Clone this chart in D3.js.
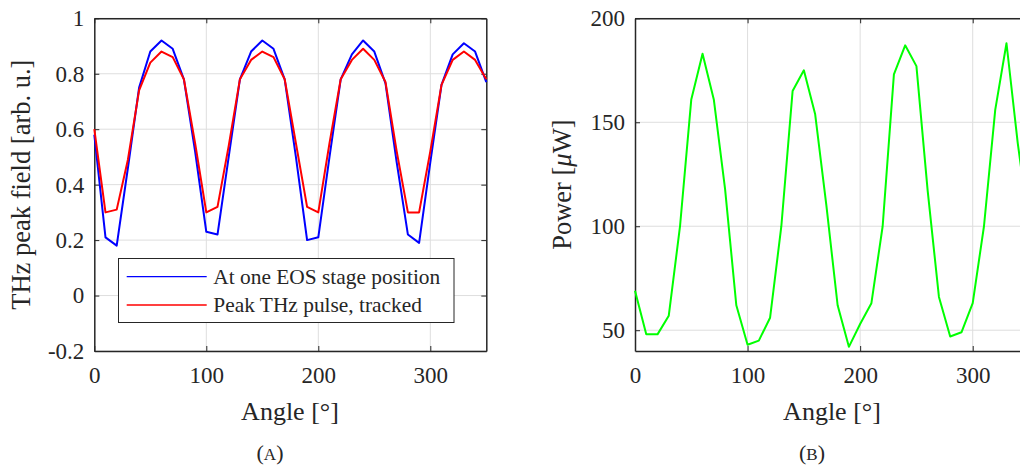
<!DOCTYPE html>
<html>
<head>
<meta charset="utf-8">
<script src="https://cdn.jsdelivr.net/npm/d3@7"></script>
<style>
  body { margin: 0; background: #fff; overflow: hidden; }
  svg { display: block; font-family: "Liberation Serif", "Times New Roman", serif; }
  .axis text { font-size: 23px; fill: #262626; }
  .axis path, .axis line { stroke: #262626; }
  .grid line { stroke: #dedede; stroke-width: 1; }
</style>
</head>
<body>
<svg width="1020" height="465"></svg>
<script>
// data
var angles = [0, 10, 20, 30, 40, 50, 60, 70, 80, 90, 100, 110, 120, 130, 140, 150, 160, 170,
              180, 190, 200, 210, 220, 230, 240, 250, 260, 270, 280, 290, 300, 310, 320, 330, 340, 350];
var eosField = [0.58, 0.21, 0.18, 0.46, 0.75, 0.88, 0.92, 0.89, 0.78, 0.52, 0.23, 0.22,
                0.50, 0.78, 0.88, 0.92, 0.89, 0.78, 0.50, 0.20, 0.21, 0.50, 0.78, 0.87,
                0.92, 0.88, 0.765, 0.48, 0.22, 0.19, 0.48, 0.76, 0.87, 0.91, 0.88, 0.77];
var trackedField = [0.60, 0.30, 0.31, 0.49, 0.74, 0.84, 0.88, 0.86, 0.78, 0.55, 0.30, 0.32,
                    0.54, 0.78, 0.85, 0.88, 0.86, 0.78, 0.55, 0.32, 0.30, 0.55, 0.78, 0.85,
                    0.89, 0.85, 0.77, 0.52, 0.30, 0.30, 0.52, 0.76, 0.85, 0.88, 0.85, 0.78];
var power = [69, 48, 48, 57, 100, 161, 183, 161, 118, 62, 43, 45,
             56, 100, 165, 175, 154, 110, 62, 42, 53, 63, 100, 173,
             187, 177, 117, 66, 47, 49, 63, 100, 156, 188, 140, 100];

var fieldTicks = [-0.2, 0, 0.2, 0.4, 0.6, 0.8, 1];
var powerTicks = [50, 100, 150, 200];
var angleTicks = [0, 100, 200, 300];
var legendNames = ["At one EOS stage position", "Peak THz pulse, tracked"];

var svg = d3.select("svg");
var top_ = 18.3, bottom = 351;

// draws one framed MATLAB-style axes and returns its scales
function makeAxes(left, right, yDomain, yTicks, yFmt) {
    var x = d3.scaleLinear().domain([0, 350]).range([left, right]);
    var y = d3.scaleLinear().domain(yDomain).range([bottom, top_]);
    var g = svg.append("g");

    // grid
    var grid = g.append("g").attr("class", "grid");
    grid.selectAll("line.v").data(angleTicks.slice(1)).enter().append("line")
        .attr("x1", x).attr("x2", x).attr("y1", top_).attr("y2", bottom);
    grid.selectAll("line.h").data(yTicks).enter().append("line")
        .attr("y1", y).attr("y2", y).attr("x1", left).attr("x2", right);

    g.append("g").attr("class", "axis")
        .attr("transform", "translate(0," + bottom + ")")
        .call(d3.axisBottom(x).tickValues(angleTicks).tickSizeInner(-5).tickSizeOuter(0).tickPadding(16));
    g.append("g").attr("class", "axis")
        .attr("transform", "translate(0," + top_ + ")")
        .call(d3.axisTop(x).tickValues(angleTicks).tickSizeInner(-5).tickSizeOuter(0).tickFormat(""));
    g.append("g").attr("class", "axis")
        .attr("transform", "translate(" + left + ",0)")
        .call(d3.axisLeft(y).tickValues(yTicks).tickSizeInner(-5).tickSizeOuter(0).tickPadding(10).tickFormat(yFmt));
    g.append("g").attr("class", "axis")
        .attr("transform", "translate(" + right + ",0)")
        .call(d3.axisRight(y).tickValues(yTicks).tickSizeInner(-5).tickSizeOuter(0).tickFormat(""));

    // d3 puts sans-serif on the axis groups, drop it so the serif from css applies
    g.selectAll(".axis").attr("font-family", null).attr("font-size", null);
    g.selectAll(".axis path").attr("stroke-width", 1.5);

    return {x: x, y: y, g: g};
}

function drawLine(ax, values, color) {
    var line = d3.line()
        .x(function(d, i) { return ax.x(angles[i]); })
        .y(function(d) { return ax.y(d); });
    ax.g.append("path")
        .datum(values)
        .attr("fill", "none")
        .attr("stroke", color)
        .attr("stroke-width", 2)
        .attr("stroke-linejoin", "round")
        .attr("d", line);
}

function caption(ax, cx, letter) {
    var t = ax.g.append("text")
        .attr("x", cx).attr("y", 460)
        .attr("text-anchor", "middle").attr("font-size", 22).attr("fill", "#262626");
    t.append("tspan").text("(");
    t.append("tspan").attr("font-size", 17).text(letter);
    t.append("tspan").text(")");
}

/////////////
// (A) field
/////////////
var axA = makeAxes(94.3, 486.3, [-0.2, 1], fieldTicks, function(d) { return String(d); });
drawLine(axA, eosField, "#0000ff");
drawLine(axA, trackedField, "#ff0000");

// legend
var leg = axA.g.append("g");
leg.append("rect")
    .attr("x", 118.5).attr("y", 258.5).attr("width", 335.5).attr("height", 64)
    .attr("fill", "#fff").attr("stroke", "#262626").attr("stroke-width", 1);
[["#0000ff", 276.7], ["#ff0000", 305]].forEach(function(c, i) {
    leg.append("line")
        .attr("x1", 126.7).attr("x2", 206.7).attr("y1", c[1]).attr("y2", c[1])
        .attr("stroke", c[0]).attr("stroke-width", 1.3);
    leg.append("text")
        .attr("x", 213.3).attr("y", c[1]).attr("dy", "0.34em")
        .attr("font-size", 21.4).attr("fill", "#262626")
        .text(legendNames[i]);
});

axA.g.append("text")
    .attr("transform", "translate(30," + ((top_ + bottom) / 2) + ") rotate(-90)")
    .attr("text-anchor", "middle").attr("font-size", 26.5).attr("fill", "#262626")
    .text("THz peak field [arb. u.]");
axA.g.append("text")
    .attr("x", 290).attr("y", 420)
    .attr("text-anchor", "middle").attr("font-size", 26).attr("fill", "#262626")
    .text("Angle [°]");
caption(axA, 270, "A");

/////////////
// (B) power
/////////////
var axB = makeAxes(635, 1029, [40, 200], powerTicks, d3.format("d"));
drawLine(axB, power, "#00ff00");

var yl = axB.g.append("text")
    .attr("transform", "translate(571," + ((top_ + bottom) / 2) + ") rotate(-90)")
    .attr("text-anchor", "middle").attr("font-size", 26.5).attr("fill", "#262626");
yl.append("tspan").text("Power [");
yl.append("tspan").attr("font-style", "italic").text("μ");
yl.append("tspan").text("W]");
axB.g.append("text")
    .attr("x", 832).attr("y", 420)
    .attr("text-anchor", "middle").attr("font-size", 26).attr("fill", "#262626")
    .text("Angle [°]");
caption(axB, 812, "B");
</script>
</body>
</html>
